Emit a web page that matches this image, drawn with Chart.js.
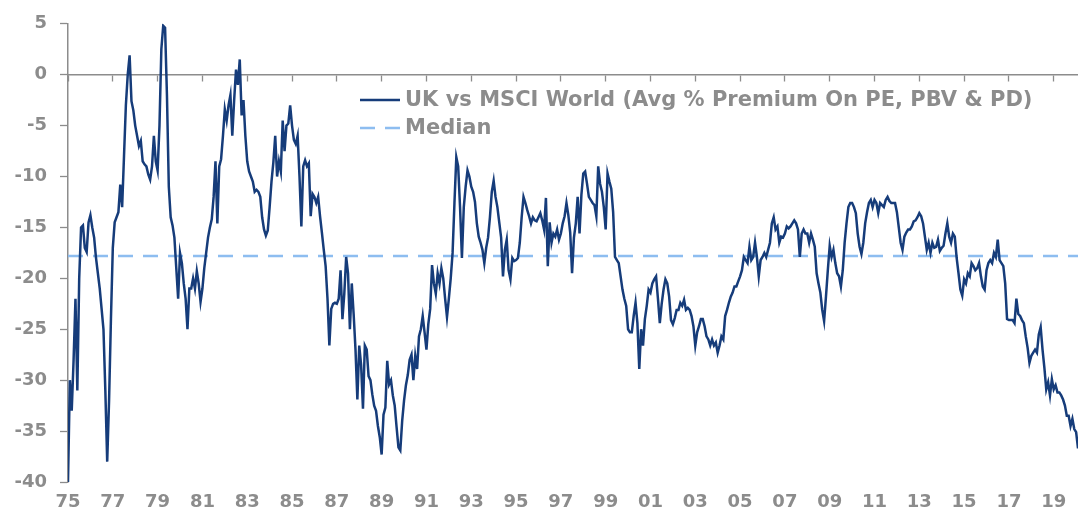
<!DOCTYPE html>
<html>
<head>
<meta charset="utf-8">
<script src="https://cdn.jsdelivr.net/npm/chart.js@4.4.1/dist/chart.umd.min.js"></script>
<style>
  html, body { margin: 0; padding: 0; background: #ffffff; }
  #wrap { width: 1078px; height: 511px; }
</style>
</head>
<body>
<div id="wrap"><canvas id="c" width="1078" height="511"></canvas></div>
<script>
// ---- DATA (monthly) ----
const startYear = 1975;
const values1970s = [
  -40, -30, -33, -28, -22, -31, -20, -15, -14.8, -17, -17.4, -14.5,          // 1975
  -13.8, -15, -16, -18, -19.5, -21, -23, -25, -31, -38, -32, -24,            // 1976
  -17, -14.5, -14, -13.5, -10.8, -13, -8, -3, 0, 1.9, -2.6, -3.5,             // 1977
  -5, -6, -7, -6.5, -8.5, -8.8, -9, -9.8, -10.3, -9, -6, -8.5,                // 1978
  -9.4, -5, 2.5, 4.8, 4.6, -2, -11, -14, -14.8, -16, -19, -22                 // 1979
];
const values1980s = [
  -17.5, -18.5, -20.5, -22, -25, -21, -21, -20, -21, -19.3, -20.5, -22.3,     // 1980
  -21, -19, -17.5, -16, -15, -14.2, -12, -8.5, -14.6, -9, -8.3, -6,           // 1981
  -3.4, -4.5, -3, -2, -6, -2.5, 0.5, -1, 1.5, -4, -2.5, -6,                   // 1982
  -8.5, -9.5, -10, -10.5, -11.5, -11.3, -11.5, -12, -14, -15.2, -15.8, -15.3, // 1983
  -13, -10.5, -8.6, -6, -10, -8.5, -9.5, -4.5, -7.5, -5, -4.8, -3,            // 1984
  -5, -6.4, -6.8, -6, -10, -14.9, -9, -8.4, -9, -8.7, -13.9, -11.7,           // 1985
  -12, -12.6, -12, -13.9, -15.5, -17.2, -18.8, -22, -26.6, -23, -22.5, -22.4, // 1986
  -22.5, -22, -19.2, -24, -21.5, -17.9, -19.5, -25, -20.5, -23.5, -27, -31.9, // 1987
  -26.6, -28.5, -32.8, -26.6, -27, -29.6, -30, -31.4, -32.5, -33, -34.5, -35.6, // 1988
  -37.3, -33.4, -32.7, -28.1, -30.4, -30, -31.5, -32.5, -34.6, -36.6, -36.9, -34 // 1989
];
const values1990s = [
  -32, -30.5, -29.5, -28, -27.5, -30, -27.6, -28.9, -25.7, -25, -23.7, -25.3, // 1990
  -27, -24.5, -23, -18.7, -20.5, -21.5, -19.5, -20.5, -19, -20, -22, -23.8,   // 1991
  -22, -20, -17.5, -12.6, -8.1, -9, -13, -18, -13, -11, -9.4, -10,            // 1992
  -11, -11.5, -12.5, -14.6, -15.9, -16.5, -17.2, -18.5, -17, -16, -14, -11.5, // 1993
  -10.4, -12, -13, -14.5, -16, -19.8, -17.2, -16.2, -19.2, -20.1, -18, -18.3, // 1994
  -18.2, -18, -16.5, -14, -12, -12.6, -13.3, -13.9, -14.6, -14, -14.3, -14.4, // 1995
  -14, -13.6, -14.3, -15.2, -12.1, -18.8, -14.5, -16.5, -15.6, -15.9, -15.2, -16.2, // 1996
  -15.6, -14.6, -13.9, -12.6, -13.8, -15.5, -19.5, -16, -14.6, -12, -15.6, -11.8,   // 1997
  -9.7, -9.5, -10.7, -12, -12.3, -12.6, -12.8, -13.9, -9, -10.7, -11.5, -13,  // 1998
  -15.2, -9.7, -10.5, -11.2, -13.5, -17.9, -18.2, -18.5, -19.8, -21.1, -22, -22.7 // 1999
];
const values2000s = [
  -25, -25.3, -25.3, -23.7, -22.4, -24.4, -28.9, -25, -26.6, -24, -22.7, -21.1, // 2000
  -21.4, -20.5, -20.1, -19.8, -22, -24.4, -22.5, -21.1, -20.1, -20.5, -21.8, -24.1, // 2001
  -24.5, -23.9, -23.1, -23.1, -22.4, -22.7, -22.1, -23.1, -22.9, -23.1, -23.7, -24.7, // 2002
  -26.6, -25.3, -24.7, -24, -24, -24.7, -25.7, -26, -26.6, -26, -26.6, -26.3, // 2003
  -27.3, -26.6, -25.7, -26, -23.7, -23.1, -22.4, -21.8, -21.4, -20.8, -20.8, -20.3, // 2004
  -19.8, -19.2, -17.9, -18.2, -18.5, -16.9, -18.2, -17.9, -16.5, -17.9, -19.8, -18.2, // 2005
  -17.9, -17.5, -17.9, -17.2, -16.5, -14.6, -14, -15.2, -14.9, -16.5, -15.9, -16,   // 2006
  -15.6, -14.9, -15.1, -14.9, -14.6, -14.3, -14.6, -15.2, -17.9, -15.6, -15.2, -15.6, // 2007
  -15.6, -16.5, -15.6, -16.2, -16.9, -19.5, -20.5, -21.4, -23.1, -24.2, -21.8, -19.2, // 2008
  -16.8, -17.9, -17.2, -18.5, -19.5, -19.8, -20.8, -19.2, -16.5, -14.6, -13, -12.6    // 2009
];
const values2010s = [
  -12.6, -13, -13.6, -15.6, -16.9, -17.6, -16.5, -14.6, -13.5, -12.6, -12.3, -13,   // 2010
  -12.3, -12.6, -13.6, -12.6, -12.8, -13, -12.3, -12, -12.4, -12.6, -12.6, -12.6,   // 2011
  -13.5, -15, -16.5, -17.2, -15.9, -15.5, -15.2, -15.2, -14.9, -14.4, -14.3, -14,   // 2012
  -13.6, -13.9, -14.6, -15.9, -17.2, -16.5, -17.5, -16.5, -17, -16.9, -16.2, -17.3, // 2013
  -17, -16.8, -15.6, -14.6, -15.9, -16.5, -15.6, -15.9, -18, -19.5, -21.1, -21.7,   // 2014
  -20.1, -20.5, -19.5, -19.8, -18.5, -18.8, -19.2, -19, -18.5, -19.8, -20.8, -21.1, // 2015
  -19.2, -18.5, -18.2, -18.5, -17.5, -17.9, -16.2, -18.2, -18.5, -18.8, -20.5, -24, // 2016
  -24.1, -24.1, -24.1, -24.4, -22, -23.5, -23.7, -24.1, -24.4, -25.7, -26.8, -28.3, // 2017
  -27.6, -27.3, -27, -27.3, -25.5, -24.8, -27, -28.8, -30.9, -30.2, -31.5, -29.9,   // 2018
  -30.9, -30.5, -31.2, -31.2, -31.5, -31.9, -32.5, -33.5, -33.5, -34.5, -33.8, -34.8 // 2019
];
const values2020s = [-35.1, -36.7];
const medianValue = -17.8;
const tickYears = [1975,1977,1979,1981,1983,1985,1987,1989,1991,1993,1995,1997,1999,
                   2001,2003,2005,2007,2009,2011,2013,2015,2017,2019];
const yTicks = [5, 0, -5, -10, -15, -20, -25, -30, -35, -40];
const seriesLabel = 'UK vs MSCI World (Avg % Premium On PE, PBV & PD)';
const medianLabel = 'Median';

// ---- build ----
const allValues = [].concat(values1970s, values1980s, values1990s, values2000s, values2010s, values2020s);
const seriesPoints = allValues.map((v, i) => ({ x: startYear + i / 12, y: v }));
const xMin = startYear;
const xMax = startYear + (allValues.length - 1) / 12;
const medianPoints = [{ x: xMin, y: medianValue }, { x: xMax, y: medianValue }];

const GRAY = '#8c8c8c';
const FONT = "'DejaVu Sans', 'Liberation Sans', Arial, sans-serif";

const insideLegend = {
  id: 'insideLegend',
  afterDraw(chart) {
    const ctx = chart.ctx;
    const rows = [100, 128];
    ctx.save();
    chart.data.datasets.forEach((ds, i) => {
      const y = rows[i];
      ctx.beginPath();
      ctx.strokeStyle = ds.borderColor;
      ctx.lineWidth = ds.borderWidth;
      ctx.setLineDash(ds.borderDash || []);
      ctx.moveTo(360, y);
      ctx.lineTo(400, y);
      ctx.stroke();
      ctx.setLineDash([]);
      ctx.fillStyle = GRAY;
      ctx.font = "bold 21px " + FONT;
      ctx.textBaseline = 'middle';
      ctx.textAlign = 'left';
      ctx.fillText(ds.label, 405, y + 1);
    });
    ctx.restore();
  }
};

new Chart(document.getElementById('c'), {
  type: 'line',
  data: {
    datasets: [
      {
        label: seriesLabel,
        data: seriesPoints,
        borderColor: '#163c7a',
        borderWidth: 2.5,
        pointRadius: 0,
        tension: 0,
        order: 1
      },
      {
        label: medianLabel,
        data: medianPoints,
        borderColor: '#8dbdf0',
        borderWidth: 2.5,
        borderDash: [15, 10],
        pointRadius: 0,
        tension: 0,
        order: 2
      }
    ]
  },
  options: {
    responsive: false,
    devicePixelRatio: 1,
    animation: false,
    events: [],
    layout: { padding: { top: 23, right: 0, left: 0, bottom: 0 } },
    plugins: { legend: { display: false }, tooltip: { enabled: false } },
    scales: {
      x: {
        type: 'linear',
        min: xMin,
        max: xMax,
        position: 'bottom',
        grid: { display: false, drawTicks: false },
        border: { display: false },
        afterBuildTicks: s => { s.ticks = tickYears.map(v => ({ value: v })); },
        afterFit: s => { s.height = 29; },
        ticks: {
          autoSkip: false,
          maxRotation: 0,
          padding: 10,
          color: GRAY,
          font: { family: FONT, size: 18, weight: 'bold' },
          callback: v => String(Math.round(v) % 100).padStart(2, '0')
        }
      },
      x2: {
        type: 'linear',
        min: xMin,
        max: xMax,
        position: { y: 0 },
        grid: { drawOnChartArea: false, drawTicks: true, tickLength: 6, tickColor: GRAY, tickWidth: 1.3 },
        border: { display: true, color: GRAY, width: 1.5 },
        afterBuildTicks: s => { s.ticks = tickYears.map(v => ({ value: v })); },
        afterFit: s => { s.height = 0; },
        ticks: { display: false }
      },
      y: {
        min: -40,
        max: 5,
        afterBuildTicks: s => { s.ticks = yTicks.map(v => ({ value: v })); },
        afterFit: s => { s.width = 68; },
        grid: { drawOnChartArea: false, drawTicks: true, tickLength: 8, tickColor: GRAY, tickWidth: 1.3 },
        border: { display: true, color: GRAY, width: 1.5 },
        ticks: {
          padding: 13,
          color: GRAY,
          font: { family: FONT, size: 18, weight: 'bold' },
          callback: v => String(v)
        }
      }
    }
  },
  plugins: [insideLegend]
});
</script>
</body>
</html>
